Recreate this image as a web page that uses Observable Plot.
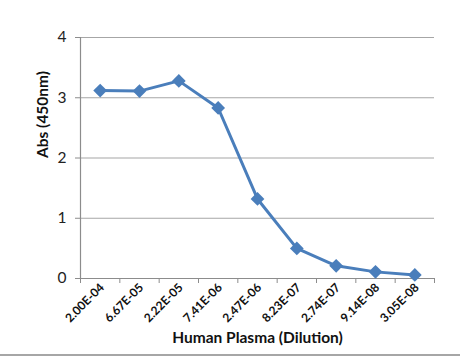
<!DOCTYPE html>
<html>
<head>
<meta charset="utf-8">
<script src="https://cdn.jsdelivr.net/npm/d3@7"></script>
<script src="https://cdn.jsdelivr.net/npm/@observablehq/plot@0.6"></script>
<style>
  html, body { margin: 0; padding: 0; background: #fff; }
  #wrap { position: relative; width: 460px; height: 357px; overflow: hidden; }
  #edge { position: absolute; left: 0; top: 354px; width: 460px; height: 2px; background: #a6a6a6; }
</style>
</head>
<body>
<div id="wrap"><div id="edge"></div></div>
<script>
const dilutions = ["2.00E-04", "6.67E-05", "2.22E-05", "7.41E-06", "2.47E-06", "8.23E-07", "2.74E-07", "9.14E-08", "3.05E-08"];
const absValues = [3.12, 3.11, 3.28, 2.83, 1.32, 0.50, 0.21, 0.11, 0.06];
const yTicks = [0, 1, 2, 3, 4];
const xTitle = "Human Plasma (Dilution)";
const yTitle = "Abs (450nm)";

const data = dilutions.map((label, i) => ({i, label, v: absValues[i]}));
const boundaries = d3.range(dilutions.length + 1).map(k => k - 0.5);
const font = "Lato, 'Open Sans', sans-serif";
const blue = "#4a7ebb";
const axisGrey = "#8c8c8c";

const chart = Plot.plot({
  width: 460,
  height: 357,
  marginLeft: 80,
  marginRight: 26,
  marginTop: 37,
  marginBottom: 79,
  style: {fontFamily: font, background: "transparent", overflow: "visible"},
  x: {domain: [-0.5, dilutions.length - 0.5], axis: null},
  y: {domain: [0, 4], axis: null},
  marks: [
    Plot.gridY(yTicks.filter(t => t > 0), {stroke: "#a6a6a6", strokeOpacity: 1, strokeWidth: 1.2}),
    Plot.axisY(yTicks, {tickSize: 5, tickPadding: 9, tickFormat: d3.format("d"), fontSize: 15.5, color: "#222", stroke: axisGrey, label: null, anchor: "left"}),
    Plot.ruleX([-0.5], {stroke: axisGrey, strokeWidth: 1.2}),
    Plot.ruleY([0], {stroke: axisGrey, strokeWidth: 1.2}),
    Plot.axisX(boundaries, {tickSize: 5, tickFormat: () => "", stroke: axisGrey, label: null, anchor: "bottom"}),
    Plot.text(data, {x: "i", y: () => 0, text: "label", rotate: -45, textAnchor: "end", dx: 2, dy: 7, fontSize: 12, fontWeight: "bold", fill: "#111"}),
    Plot.text([xTitle], {frameAnchor: "bottom", dy: 64, fontSize: 15.5, fontWeight: "bold", fill: "#111"}),
    Plot.text([yTitle], {frameAnchor: "left", dx: -37, rotate: -90, fontSize: 15.5, fontWeight: "bold", fill: "#111"}),
    Plot.line(data, {x: "i", y: "v", stroke: blue, strokeWidth: 3}),
    Plot.dot(data, {x: "i", y: "v", symbol: "diamond2", r: 6.2, fill: blue, stroke: "none"})
  ]
});
document.getElementById("wrap").prepend(chart);
</script>
</body>
</html>
